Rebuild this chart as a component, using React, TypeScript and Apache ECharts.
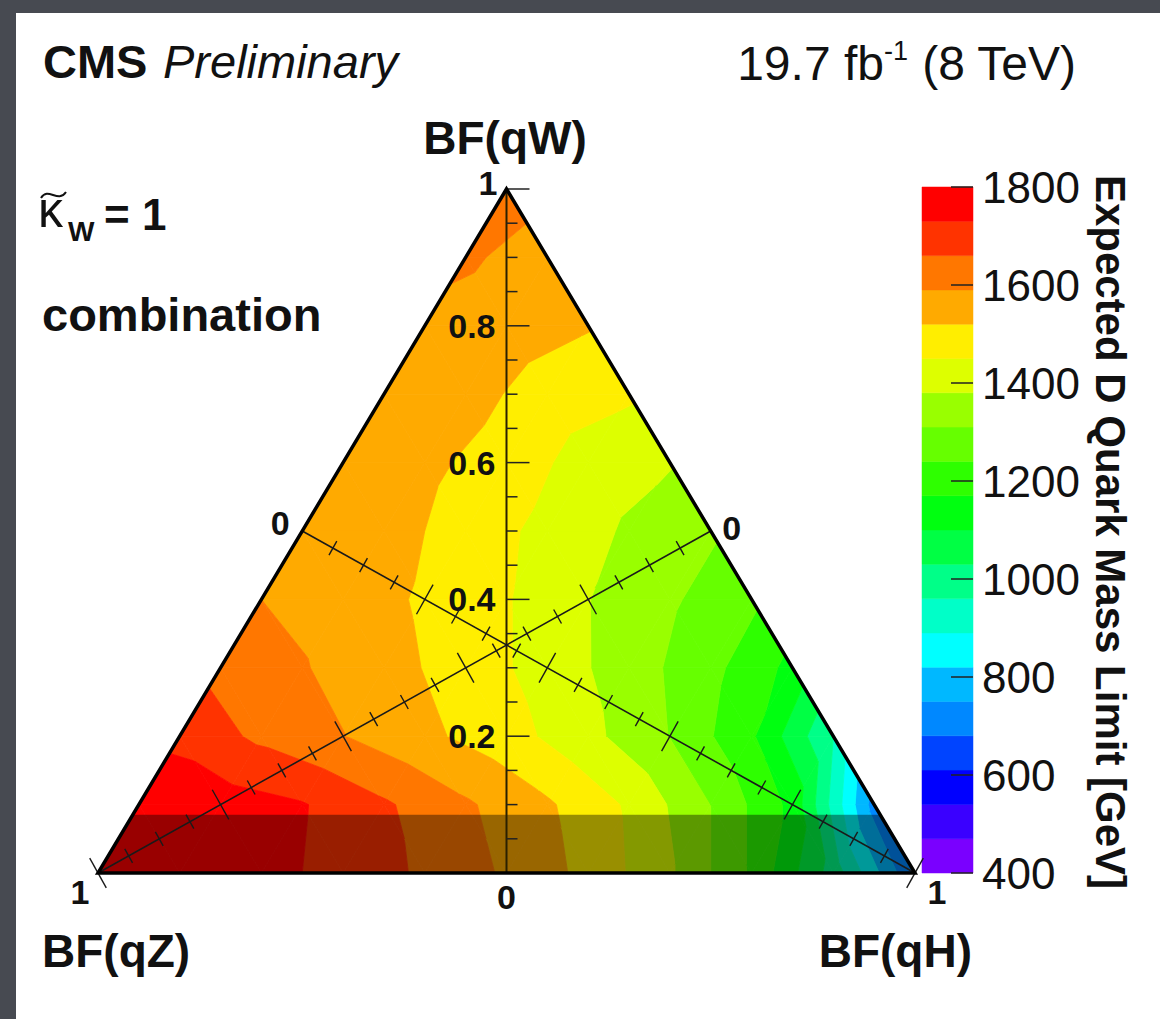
import React, { useEffect, useRef } from "react";
import * as echarts from "echarts";

const FONT = '"Liberation Sans", Arial, Helvetica, sans-serif';

// Barycentric grid steps (used for BF(qW) rows and BF(qH) columns)
const bfSteps = [0, 0.1, 0.2, 0.3, 0.4, 0.5, 0.6, 0.7, 0.8, 0.9, 1.0];

// Expected D quark mass limit [GeV]; one row per BF(qW), entries over BF(qH) = 0, 0.1, ...
const limitW00 = [1800, 1790, 1760, 1700, 1650, 1580, 1500, 1390, 1230, 1000, 680];
const limitW01 = [1790, 1765, 1735, 1670, 1600, 1530, 1440, 1310, 1150, 720];
const limitW02 = [1710, 1645, 1592, 1535, 1480, 1400, 1308, 1180, 960];
const limitW03 = [1640, 1595, 1545, 1490, 1420, 1345, 1260, 1150];
const limitW04 = [1590, 1560, 1510, 1455, 1382, 1320, 1255];
const limitW05 = [1565, 1550, 1490, 1430, 1370, 1320];
const limitW06 = [1560, 1535, 1490, 1420, 1385];
const limitW07 = [1565, 1545, 1490, 1460];
const limitW08 = [1575, 1555, 1525];
const limitW09 = [1600, 1560];
const limitW10 = [1620];
const limitRows = [limitW00, limitW01, limitW02, limitW03, limitW04, limitW05, limitW06, limitW07, limitW08, limitW09, limitW10];

// Colour palette (contour levels)
const bandEdges = [400, 470, 540, 610, 680, 750, 820, 890, 960, 1030, 1100, 1170, 1240, 1310, 1380, 1450, 1520, 1590, 1660, 1730, 1800];
const bandColors = [
  "#7a00ff", "#3a00ff", "#0000ff", "#0044ff", "#0088ff", "#00b8ff", "#00ffff", "#00ffc8", "#00ff88", "#00ff44",
  "#00ff10", "#2eff00", "#66ff00", "#99ff00", "#ddff00", "#ffee00", "#ffaa00", "#ff7700", "#ff3300", "#ff0000",
];
const colorbarMin = 400;
const colorbarMax = 1800;
const colorbarStep = 200;
const colorbarTicks = [400, 600, 800, 1000, 1200, 1400, 1600, 1800];

// Ternary axis ticks
const ternaryTicks = [0, 0.05, 0.1, 0.15, 0.2, 0.25, 0.3, 0.35, 0.4, 0.45, 0.5, 0.55, 0.6, 0.65, 0.7, 0.75, 0.8, 0.85, 0.9, 0.95, 1];
const ternaryMajor = [0, 0.2, 0.4, 0.6, 0.8, 1];
const verticalLabels = ["0", "0.2", "0.4", "0.6", "0.8", "1"];
const medianLabels = ["0", "1"];

type P3 = [number, number, number];

function clipBand(poly: P3[], lo: number, hi: number): P3[] {
  const clip = (pts: P3[], f: (v: number) => number): P3[] => {
    const out: P3[] = [];
    for (let i = 0; i < pts.length; i++) {
      const a = pts[i];
      const b = pts[(i + 1) % pts.length];
      const fa = f(a[2]);
      const fb = f(b[2]);
      if (fa >= 0) out.push(a);
      if (fa >= 0 !== fb >= 0) {
        const t = fa / (fa - fb);
        out.push([a[0] + t * (b[0] - a[0]), a[1] + t * (b[1] - a[1]), a[2] + t * (b[2] - a[2])]);
      }
    }
    return out;
  };
  let p = clip(poly, (v) => v - lo);
  if (p.length < 3) return [];
  p = clip(p, (v) => hi - v);
  return p.length >= 3 ? p : [];
}

function buildTriangles(): number[][] {
  const pt = (i: number, j: number) => {
    const w = bfSteps[i];
    const h = bfSteps[j];
    return [h + w / 2, w, limitRows[i][j]];
  };
  const tris: number[][] = [];
  const n = bfSteps.length - 1;
  for (let i = 0; i < n; i++) {
    for (let j = 0; j <= n - 1 - i; j++) {
      tris.push([...pt(i, j), ...pt(i, j + 1), ...pt(i + 1, j)]);
      if (j <= n - 2 - i) tris.push([...pt(i, j + 1), ...pt(i + 1, j + 1), ...pt(i + 1, j)]);
    }
  }
  return tris;
}

const isMajor = (t: number) => ternaryMajor.some((m) => Math.abs(m - t) < 1e-6);

export default function App() {
  const ref = useRef<HTMLDivElement>(null);

  useEffect(() => {
    if (!ref.current) return;
    const chart = echarts.init(ref.current, undefined, { renderer: "svg" });
    const triangles = buildTriangles();
    const colorbarData = bandColors.map((_, i) => [0.5, bandEdges[i], bandEdges[i + 1], i]);
    const colorbarTickData = colorbarTicks.map((v) => [1, v]);

    const option: any = {
      animation: false,
      backgroundColor: "#ffffff",
      textStyle: { fontFamily: FONT },
      grid: [
        { left: 98, top: 189, width: 817, height: 684 },
        { left: 922, top: 187, width: 51, height: 686 },
      ],
      xAxis: [
        { type: "value", min: 0, max: 1, show: false, gridIndex: 0 },
        { type: "value", min: 0, max: 1, show: false, gridIndex: 1 },
      ],
      yAxis: [
        { type: "value", min: 0, max: 1, show: false, gridIndex: 0 },
        {
          type: "value",
          gridIndex: 1,
          min: colorbarMin,
          max: colorbarMax,
          interval: colorbarStep,
          position: "right",
          z: 5,
          axisLine: { show: false },
          axisTick: { show: false },
          axisLabel: {
            show: true,
            fontSize: 44,
            color: "#111",
            fontFamily: FONT,
            margin: 9,
            formatter: (v: number) => String(v),
          },
          splitLine: { show: false },
        },
      ],
      series: [
        {
          type: "custom",
          name: "limit",
          xAxisIndex: 0,
          yAxisIndex: 0,
          clip: false,
          silent: true,
          z: 2,
          encode: { x: [0, 3, 6], y: [1, 4, 7] },
          data: triangles,
          renderItem: (params: any, api: any) => {
            const pts: P3[] = [0, 1, 2].map((k) => {
              const c = api.coord([api.value(3 * k), api.value(3 * k + 1)]);
              return [c[0], c[1], api.value(3 * k + 2)] as P3;
            });
            const children: any[] = [];
            for (let b = 0; b < bandColors.length; b++) {
              const lo = b === 0 ? -Infinity : bandEdges[b];
              const hi = b === bandColors.length - 1 ? Infinity : bandEdges[b + 1];
              const poly = clipBand(pts, lo, hi);
              if (poly.length >= 3) {
                children.push({
                  type: "polygon",
                  shape: { points: poly.map((p) => [p[0], p[1]]) },
                  style: { fill: bandColors[b], stroke: bandColors[b], lineWidth: 0.8 },
                });
              }
            }
            return { type: "group", children };
          },
        },
        {
          type: "custom",
          name: "axes",
          xAxisIndex: 0,
          yAxisIndex: 0,
          clip: false,
          silent: true,
          z: 3,
          encode: { x: 0, y: 1 },
          data: [[0.5, 0.5]],
          renderItem: (params: any, api: any) => {
            const P = (x: number, y: number) => api.coord([x, y]);
            const top = P(0.5, 1);
            const bl = P(0, 0);
            const br = P(1, 0);
            const bm = P(0.5, 0);
            const lm = P(0.25, 0.5);
            const rm = P(0.75, 0.5);
            const lerp = (a: number[], b: number[], t: number) => [a[0] + (b[0] - a[0]) * t, a[1] + (b[1] - a[1]) * t];
            const els: any[] = [];
            const line = (a: number[], b: number[], w: number, c = "#111") =>
              els.push({ type: "line", shape: { x1: a[0], y1: a[1], x2: b[0], y2: b[1] }, style: { stroke: c, lineWidth: w } });
            const label = (text: string, x: number, y: number, align: string) =>
              els.push({
                type: "text",
                x,
                y,
                style: { text, font: `bold 34px ${FONT}`, fill: "#111", textAlign: align, textVerticalAlign: "middle" },
              });

            // dark speckled strip along the base
            const wn = 0.085;
            els.push({
              type: "polygon",
              shape: { points: [bl, P(wn / 2, wn), P(1 - wn / 2, wn), br] },
              style: { fill: "rgba(0,0,0,0.4)" },
            });

            // vertical BF(qW) axis
            line(bm, top, 2, "#2a2000");
            ternaryTicks.forEach((t) => {
              const p = lerp(bm, top, t);
              line(p, [p[0] + (isMajor(t) ? 23 : 11), p[1]], 1.5, "#222");
            });
            ternaryMajor.forEach((t, i) => {
              const p = lerp(bm, top, t);
              if (i === 0) label(verticalLabels[i], p[0], p[1] + 24, "center");
              else if (i === ternaryMajor.length - 1) label(verticalLabels[i], p[0] - 9, p[1] - 6, "right");
              else label(verticalLabels[i], p[0] - 11, p[1], "right");
            });

            // medians
            const median = (a: number[], b: number[]) => {
              line(a, b, 1.6, "#1a1a1a");
              const dx = b[0] - a[0];
              const dy = b[1] - a[1];
              const L = Math.hypot(dx, dy);
              const nx = -dy / L;
              const ny = dx / L;
              ternaryTicks.forEach((t) => {
                const p = lerp(a, b, t);
                const h = isMajor(t) ? 17 : 8;
                line([p[0] - nx * h, p[1] - ny * h], [p[0] + nx * h, p[1] + ny * h], 1.4, "#1a1a1a");
              });
            };
            median(lm, br);
            median(rm, bl);
            label(medianLabels[0], lm[0] - 22, lm[1] - 8, "center");
            label(medianLabels[1], br[0] + 22, br[1] + 19, "center");
            label(medianLabels[0], rm[0] + 21, rm[1] - 3, "center");
            label(medianLabels[1], bl[0] - 18, bl[1] + 19, "center");

            // triangle outline
            els.push({
              type: "polygon",
              shape: { points: [top, bl, br] },
              style: { fill: "none", stroke: "#000", lineWidth: 3.5, lineJoin: "miter" },
            });
            return { type: "group", children: els };
          },
        },
        {
          type: "custom",
          name: "colorbar",
          xAxisIndex: 1,
          yAxisIndex: 1,
          silent: true,
          z: 2,
          encode: { x: 0, y: [1, 2] },
          data: colorbarData,
          renderItem: (params: any, api: any) => {
            const lo = api.value(1);
            const hi = api.value(2);
            const c = bandColors[api.value(3)];
            const a = api.coord([0, hi]);
            const b = api.coord([1, lo]);
            return {
              type: "rect",
              shape: { x: a[0], y: a[1], width: b[0] - a[0], height: b[1] - a[1] },
              style: { fill: c, stroke: c, lineWidth: 0.5 },
            };
          },
        },
        {
          type: "custom",
          name: "colorbarTicks",
          xAxisIndex: 1,
          yAxisIndex: 1,
          silent: true,
          clip: false,
          z: 4,
          encode: { x: 0, y: 1 },
          data: colorbarTickData,
          renderItem: (params: any, api: any) => {
            const c = api.coord([api.value(0), api.value(1)]);
            return {
              type: "line",
              shape: { x1: c[0] - 22, y1: c[1], x2: c[0], y2: c[1] },
              style: { stroke: "#222", lineWidth: 1.5 },
            };
          },
        },
      ],
      graphic: [
        { type: "rect", shape: { x: 0, y: 0, width: 16, height: 1019 }, style: { fill: "#474a51" }, silent: true },
        { type: "rect", shape: { x: 0, y: 0, width: 1160, height: 13 }, style: { fill: "#474a51" }, silent: true },
        {
          type: "text",
          x: 43,
          y: 61,
          style: { text: "CMS", font: `bold 47px ${FONT}`, fill: "#111", textAlign: "left", textVerticalAlign: "middle" },
        },
        {
          type: "text",
          x: 163,
          y: 61,
          style: { text: "Preliminary", font: `italic 47px ${FONT}`, fill: "#111", textAlign: "left", textVerticalAlign: "middle" },
        },
        {
          type: "text",
          x: 1076,
          y: 63,
          style: {
            text: "{n|19.7 fb}{s|-1}{n| (8 TeV)}",
            fill: "#111",
            textAlign: "right",
            textVerticalAlign: "middle",
            rich: {
              n: { fontSize: 48, fontFamily: FONT, fill: "#111", lineHeight: 52 },
              s: { fontSize: 27, fontFamily: FONT, fill: "#111", verticalAlign: "top", lineHeight: 52 },
            },
          },
        },
        {
          type: "text",
          x: 505,
          y: 138,
          style: { text: "BF(qW)", font: `bold 46px ${FONT}`, fill: "#111", textAlign: "center", textVerticalAlign: "middle" },
        },
        {
          type: "text",
          x: 42,
          y: 951,
          style: { text: "BF(qZ)", font: `bold 46px ${FONT}`, fill: "#111", textAlign: "left", textVerticalAlign: "middle" },
        },
        {
          type: "text",
          x: 972,
          y: 951,
          style: { text: "BF(qH)", font: `bold 46px ${FONT}`, fill: "#111", textAlign: "right", textVerticalAlign: "middle" },
        },
        {
          type: "text",
          x: 38,
          y: 210,
          style: { text: "κ", font: `50px ${FONT}`, fill: "#111", textAlign: "left", textVerticalAlign: "middle" },
        },
        {
          type: "bezierCurve",
          shape: { x1: 41, y1: 198, cpx1: 48, cpy1: 186, cpx2: 58, cpy2: 204, x2: 66, y2: 192 },
          style: { stroke: "#111", lineWidth: 2, fill: "none" },
        },
        {
          type: "text",
          x: 68,
          y: 231,
          style: { text: "W", font: `bold 28px ${FONT}`, fill: "#111", textAlign: "left", textVerticalAlign: "middle" },
        },
        {
          type: "text",
          x: 104,
          y: 214,
          style: { text: "= 1", font: `bold 44px ${FONT}`, fill: "#111", textAlign: "left", textVerticalAlign: "middle" },
        },
        {
          type: "text",
          x: 42,
          y: 314,
          style: { text: "combination", font: `bold 47px ${FONT}`, fill: "#111", textAlign: "left", textVerticalAlign: "middle" },
        },
        {
          type: "text",
          x: 1110,
          y: 532,
          rotation: -Math.PI / 2,
          style: {
            text: "Expected D Quark Mass Limit [GeV]",
            font: `bold 42px ${FONT}`,
            fill: "#111",
            textAlign: "center",
            textVerticalAlign: "middle",
          },
        },
      ],
    };

    chart.setOption(option);
    return () => chart.dispose();
  }, []);

  return <div ref={ref} style={{ position: "absolute", left: 0, top: 0, width: 1160, height: 1019 }} />;
}
